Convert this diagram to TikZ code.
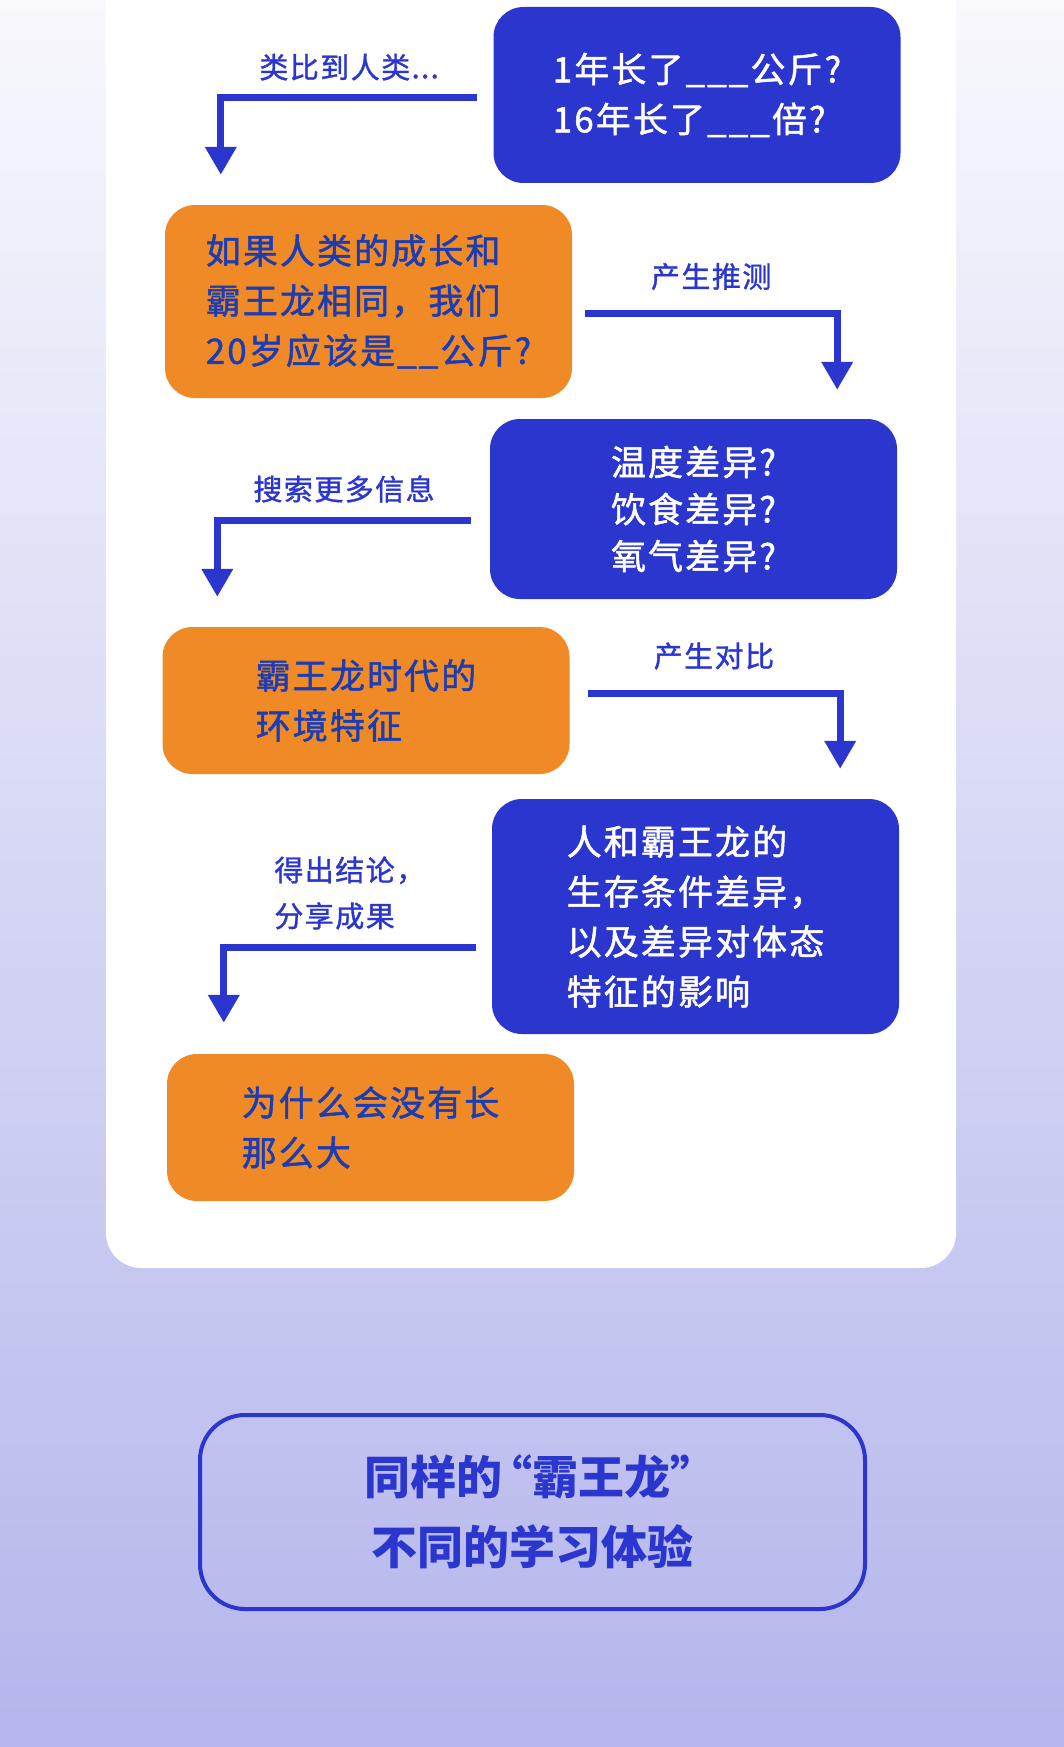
\documentclass[tikz,border=0pt]{standalone}
\usepackage{fontspec}
\setmainfont{Noto Sans CJK SC}
\newfontfamily\boxfont[LetterSpace=6, FakeBold=1.4]{Noto Sans CJK SC}
\newfontfamily\labelfont[LetterSpace=5, FakeBold=1.2]{Noto Sans CJK SC}
\usepackage{xcolor}
\usepackage{tikz}
\usetikzlibrary{arrows.meta}

\definecolor{boxblue}{HTML}{2B36CF}
\definecolor{boxorange}{HTML}{EF8A27}
\definecolor{inkblue}{HTML}{1C3CB2}
\definecolor{bgtop}{HTML}{F8F8FD}
\definecolor{bgbottom}{HTML}{B4B6EC}

\newcommand{\blank}{\_\kern2pt\_\kern2pt\_}
\newcommand{\shortblank}{\_\kern2pt\_}

\tikzset{
  stepbox/.style={rectangle, rounded corners=30pt, minimum width=407pt, align=left,
    font=\boxfont\fontsize{35}{50}\selectfont},
  bluebox/.style={stepbox, fill=boxblue, text=white},
  orangebox/.style={stepbox, fill=boxorange, text=inkblue},
  flow/.style={boxblue, line width=7pt, -{Triangle[width=30pt,length=28pt]}},
  steplabel/.style={text=boxblue, inner sep=0pt, align=left,
    font=\labelfont\fontsize{29}{46}\selectfont},
  titlebox/.style={rectangle, draw=boxblue, line width=4pt, rounded corners=45pt,
    minimum width=665pt, minimum height=194pt, align=center, text=boxblue,
    font=\bfseries\fontsize{46}{70}\selectfont}
}

\begin{document}
\begin{tikzpicture}[x=1pt, y=-1pt]
  \useasboundingbox (0,0) rectangle (1064,1747);
  \shade[top color=bgtop, bottom color=bgbottom] (0,0) rectangle (1064,1747);
  % white card
  \fill[white, rounded corners=35pt] (106,-40) rectangle (956,1268);

  \node[bluebox, minimum height=176pt] (q1) at (697,95) {1年长了\blank 公斤?\\16年长了\blank 倍?};
  \node[orangebox, minimum height=193pt] (q2) at (368.5,301.5) {如果人类的成长和\\霸王龙相同，我们\\20岁应该是\shortblank 公斤?};
  \node[bluebox, minimum height=180pt, font=\boxfont\fontsize{35}{47}\selectfont] (q3) at (693.5,509) {温度差异?\\饮食差异?\\氧气差异?};
  \node[orangebox, minimum height=147pt] (q4) at (366,700.5) {霸王龙时代的\\环境特征};
  \node[bluebox, minimum height=235pt] (q5) at (695.5,916.5) {人和霸王龙的\\生存条件差异，\\以及差异对体态\\特征的影响};
  \node[orangebox, minimum height=147pt] (q6) at (370.5,1127.5) {为什么会没有长\\那么大};

  \draw[flow] ([xshift=-16pt,yshift=-3pt]q1.west) -| node[pos=0.25, above=14pt, steplabel] {类比到人类...} ([xshift=56pt,yshift=30pt]q2.north west);
  \draw[flow] ([xshift=13pt,yshift=-12pt]q2.east) -| node[pos=0.25, above=20pt, steplabel] {产生推测} ([xshift=-60pt,yshift=29pt]q3.north east);
  \draw[flow] ([xshift=-19pt,yshift=-11pt]q3.west) -| node[pos=0.25, above=14pt, steplabel] {搜索更多信息} ([xshift=55pt,yshift=30pt]q4.north west);
  \draw[flow] ([xshift=18pt,yshift=7.5pt]q4.east) -| node[pos=0.25, above=20pt, steplabel] {产生对比} ([xshift=-59pt,yshift=30pt]q5.north east);
  \draw[flow] ([xshift=-16pt,yshift=-30.5pt]q5.west) -| node[pos=0.25, above=14pt, steplabel] {得出结论，\\分享成果} ([xshift=57pt,yshift=31pt]q6.north west);

  \node[titlebox] (motto) at (532.5,1512) {同样的\kern-16pt“霸王龙”\kern-16pt\\不同的学习体验};
\end{tikzpicture}
\end{document}
